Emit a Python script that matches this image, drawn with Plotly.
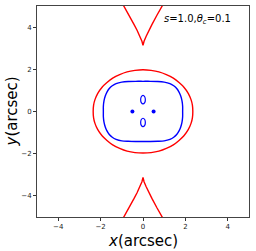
import plotly.graph_objects as go

# Red outer critical curve (closed)
red_oval_x = [2.35, 2.33, 2.27, 2.14, 1.93, 1.70, 1.43, 1.10, 0.75, 0.38, 0.0,
              -0.38, -0.75, -1.10, -1.43, -1.70, -1.93, -2.14, -2.27, -2.33, -2.35,
              -2.33, -2.27, -2.14, -1.93, -1.70, -1.43, -1.10, -0.75, -0.38, 0.0,
              0.38, 0.75, 1.10, 1.43, 1.70, 1.93, 2.14, 2.27, 2.33, 2.35]
red_oval_y = [0.0, 0.30, 0.55, 0.85, 1.15, 1.37, 1.58, 1.75, 1.88, 1.95, 1.98,
              1.95, 1.88, 1.75, 1.58, 1.37, 1.15, 0.85, 0.55, 0.30, 0.0,
              -0.30, -0.55, -0.85, -1.15, -1.37, -1.58, -1.75, -1.88, -1.95, -1.97,
              -1.95, -1.88, -1.75, -1.58, -1.37, -1.15, -0.85, -0.55, -0.30, 0.0]

# Red cusps (top and bottom)
cusp_top_x = [-1.0, -0.9, -0.65, -0.42, -0.28, -0.15, -0.05, 0.0, 0.05, 0.15, 0.28, 0.42, 0.65, 0.9, 1.0]
cusp_top_y = [5.17, 5.0, 4.55, 4.12, 3.85, 3.57, 3.33, 3.14, 3.33, 3.57, 3.85, 4.12, 4.55, 5.0, 5.17]
cusp_bot_x = [-1.0, -0.9, -0.65, -0.42, -0.28, -0.15, -0.05, 0.0, 0.05, 0.15, 0.28, 0.42, 0.65, 0.9, 1.0]
cusp_bot_y = [-5.17, -5.0, -4.55, -4.12, -3.85, -3.57, -3.33, -3.13, -3.33, -3.57, -3.85, -4.12, -4.55, -5.0, -5.17]

# Blue caustic (rounded rectangle)
blue_x = [1.87, 1.87, 1.84, 1.78, 1.70, 1.59, 1.45, 1.27, 1.00, 0.70, 0.35, 0.0,
          -0.35, -0.70, -1.00, -1.27, -1.45, -1.59, -1.70, -1.78, -1.84, -1.87, -1.87,
          -1.87, -1.84, -1.78, -1.70, -1.59, -1.45, -1.27, -1.00, -0.70, -0.35, 0.0,
          0.35, 0.70, 1.00, 1.27, 1.45, 1.59, 1.70, 1.78, 1.84, 1.87, 1.87]
blue_y = [0.0, 0.25, 0.50, 0.73, 0.92, 1.09, 1.22, 1.32, 1.39, 1.42, 1.43, 1.43,
          1.43, 1.42, 1.39, 1.32, 1.22, 1.09, 0.92, 0.73, 0.50, 0.25, 0.0,
          -0.25, -0.50, -0.73, -0.92, -1.09, -1.22, -1.32, -1.39, -1.41, -1.42, -1.42,
          -1.42, -1.41, -1.39, -1.32, -1.22, -1.09, -0.92, -0.73, -0.50, -0.25, 0.0]

# Small blue ovals
oval_up_x = [0.11, 0.08, 0.0, -0.08, -0.11, -0.08, 0.0, 0.08, 0.11]
oval_up_y = [0.56, 0.70, 0.76, 0.70, 0.56, 0.42, 0.36, 0.42, 0.56]
oval_dn_x = [0.11, 0.08, 0.0, -0.08, -0.11, -0.08, 0.0, 0.08, 0.11]
oval_dn_y = [-0.52, -0.38, -0.32, -0.38, -0.52, -0.66, -0.72, -0.66, -0.52]

# Blue dots
dots_x = [-0.5, 0.5]
dots_y = [0.0, 0.0]

tick_vals = [-4, -2, 0, 2, 4]

RED = "#ff0000"
BLUE = "#0000ff"
LW = 1.4

fig = go.Figure()
fig.add_trace(go.Scatter(x=red_oval_x, y=red_oval_y, mode="lines", line=dict(color=RED, width=LW, shape="spline", smoothing=0.8)))
fig.add_trace(go.Scatter(x=cusp_top_x, y=cusp_top_y, mode="lines", line=dict(color=RED, width=LW)))
fig.add_trace(go.Scatter(x=cusp_bot_x, y=cusp_bot_y, mode="lines", line=dict(color=RED, width=LW)))
fig.add_trace(go.Scatter(x=blue_x, y=blue_y, mode="lines", line=dict(color=BLUE, width=LW, shape="spline", smoothing=0.8)))
fig.add_trace(go.Scatter(x=oval_up_x, y=oval_up_y, mode="lines", line=dict(color=BLUE, width=1.2, shape="spline", smoothing=1.0)))
fig.add_trace(go.Scatter(x=oval_dn_x, y=oval_dn_y, mode="lines", line=dict(color=BLUE, width=1.2, shape="spline", smoothing=1.0)))
fig.add_trace(go.Scatter(x=dots_x, y=dots_y, mode="markers", marker=dict(color=BLUE, size=4)))

axis_common = dict(
    range=[-5, 5], tickvals=tick_vals, ticks="outside", ticklen=3, tickwidth=1,
    tickcolor="#333", showline=True, linecolor="#444", linewidth=1, mirror=True,
    showgrid=False, zeroline=False, automargin=False,
    tickfont=dict(family="DejaVu Sans", size=7, color="#222"),
)

title_font = dict(family="DejaVu Sans", size=15, color="black")

fig.update_layout(
    width=256, height=251, margin=dict(l=37, r=7, t=6, b=34),
    paper_bgcolor="white", plot_bgcolor="white", showlegend=False,
    xaxis=dict(**axis_common),
    yaxis=dict(**axis_common),
    annotations=[
        dict(x=0.925, y=0.934, xref="paper", yref="paper", xanchor="right", yanchor="middle",
             text="<i>s</i>=1.0,<i>θ</i><sub><i>c</i></sub>=0.1", showarrow=False,
             font=dict(family="DejaVu Sans", size=10, color="black")),
        dict(x=0.5, y=-0.116, xref="paper", yref="paper", xanchor="center", yanchor="middle",
             text="<i>x</i>(arcsec)", showarrow=False, font=title_font),
        dict(x=-0.118, y=0.5, xref="paper", yref="paper", xanchor="center", yanchor="middle",
             text="<i>y</i>(arcsec)", showarrow=False, textangle=-90, font=title_font),
    ],
)

fig.write_html("out.html", config={"displayModeBar": False},
               post_script="document.body.style.margin='0';document.body.style.overflow='hidden';")
